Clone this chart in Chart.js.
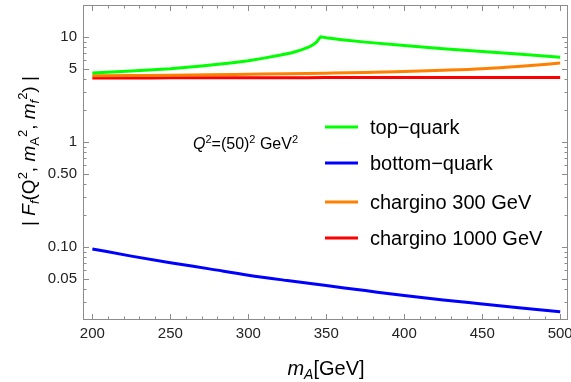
<!DOCTYPE html>
<html lang="en">
<head>
<meta charset="UTF-8">
<title>|F_f| vs m_A</title>
<script src="https://cdn.jsdelivr.net/npm/chart.js"></script>
<style>
  html, body { margin: 0; padding: 0; background: #fff; }
  #wrap { width: 571px; height: 382px; position: relative; }
</style>
</head>
<body>
<div id="wrap"><canvas id="grafico"></canvas></div>
<script>
  // top quark (cusp at the 2 m_t threshold)
  const topX = [200, 225, 250, 270, 290, 300, 310, 320, 328, 334, 339, 342, 344, 345.5, 346.5, 350, 360, 375, 400, 425, 450, 475, 500];
  const topY = [4.55, 4.75, 5.0, 5.3, 5.7, 5.95, 6.3, 6.7, 7.1, 7.55, 8.05, 8.55, 9.05, 9.7, 10.05, 9.85, 9.45, 8.95, 8.3, 7.75, 7.3, 6.85, 6.42];

  const massX = [200, 225, 250, 275, 300, 325, 350, 375, 400, 425, 450, 475, 500];
  const bottomY = [0.096, 0.082, 0.071, 0.062, 0.054, 0.048, 0.043, 0.0385, 0.0345, 0.0313, 0.0287, 0.0263, 0.0242];
  const chargino300Y = [4.27, 4.30, 4.33, 4.37, 4.42, 4.47, 4.53, 4.60, 4.70, 4.83, 5.00, 5.28, 5.65];
  const chargino1000Y = [4.08, 4.08, 4.09, 4.09, 4.10, 4.10, 4.11, 4.11, 4.12, 4.12, 4.12, 4.13, 4.13];

  const nombres = ['top\u2212quark', 'bottom\u2212quark', 'chargino 300 GeV', 'chargino 1000 GeV'];
  const colores = ['#00ff00', '#0000ff', '#ff8000', '#ff0000'];

  const xTicks = [200, 250, 300, 350, 400, 450, 500];
  const xMinor = [210, 220, 230, 240, 260, 270, 280, 290, 310, 320, 330, 340, 360, 370, 380, 390, 410, 420, 430, 440, 460, 470, 480, 490];
  const yTicks = [0.05, 0.1, 0.5, 1, 5, 10];
  const yTickLabels = ['0.05', '0.10', '0.50', '1', '5', '10'];
  const yMinor = [0.02, 0.03, 0.04, 0.06, 0.07, 0.08, 0.09, 0.2, 0.3, 0.4, 0.6, 0.7, 0.8, 0.9, 2, 3, 4, 6, 7, 8, 9, 20];

  const FUENTE = "'Liberation Sans', Arial, sans-serif";

  function pares(xs, ys) {
    return xs.map((x, i) => ({ x: x, y: ys[i] }));
  }

  // draws text made of pieces (italic, sub/superscript)
  function textoRico(ctx, partes, x, y, align) {
    let ancho = 0;
    partes.forEach(p => {
      ctx.font = (p.it ? 'italic ' : '') + p.size + 'px ' + FUENTE;
      p.w = ctx.measureText(p.t).width;
      ancho += p.w;
    });
    let cx = align === 'center' ? x - ancho / 2 : x;
    ctx.textAlign = 'left';
    ctx.textBaseline = 'alphabetic';
    partes.forEach(p => {
      ctx.font = (p.it ? 'italic ' : '') + p.size + 'px ' + FUENTE;
      ctx.fillText(p.t, cx, y + (p.dy || 0));
      cx += p.w;
    });
  }

  const marco = {
    id: 'marco',
    afterDraw(chart) {
      const ctx = chart.ctx;
      const a = chart.chartArea;
      const sx = chart.scales.x, sy = chart.scales.y;
      ctx.save();
      ctx.strokeStyle = '#8c8c8c';
      ctx.lineWidth = 1;
      ctx.strokeRect(a.left + 0.5, a.top + 0.5, a.right - a.left - 1, a.bottom - a.top - 1);

      function tick(px, largo, vertical) {
        ctx.beginPath();
        const p = Math.round(px) + 0.5;
        if (vertical) {
          ctx.moveTo(p, a.bottom); ctx.lineTo(p, a.bottom - largo);
          ctx.moveTo(p, a.top); ctx.lineTo(p, a.top + largo);
        } else {
          ctx.moveTo(a.left, p); ctx.lineTo(a.left + largo, p);
          ctx.moveTo(a.right, p); ctx.lineTo(a.right - largo, p);
        }
        ctx.stroke();
      }
      xTicks.forEach(v => tick(sx.getPixelForValue(v), 6, true));
      xMinor.forEach(v => tick(sx.getPixelForValue(v), 3.5, true));
      yTicks.forEach(v => tick(sy.getPixelForValue(v), 6, false));
      yMinor.forEach(v => {
        const p = sy.getPixelForValue(v);
        if (p >= a.top && p <= a.bottom) tick(p, 3.5, false);
      });

      ctx.fillStyle = '#000';
      // x title
      textoRico(ctx, [
        { t: 'm', size: 20, it: true },
        { t: 'A', size: 14, it: true, dy: 4 },
        { t: '[GeV]', size: 20 }
      ], 326, 375, 'center');

      // y title
      ctx.save();
      ctx.translate(35, 151);
      ctx.rotate(-Math.PI / 2);
      textoRico(ctx, [
        { t: '| ', size: 19 },
        { t: 'F', size: 19, it: true },
        { t: 'f', size: 13, it: true, dy: 4 },
        { t: '(Q', size: 19 },
        { t: '2', size: 13, dy: -8 },
        { t: ', ', size: 19 },
        { t: 'm', size: 19, it: true },
        { t: 'A', size: 13, dy: 4 },
        { t: '2', size: 13, dy: -8 },
        { t: ', ', size: 19 },
        { t: 'm', size: 19, it: true },
        { t: 'f', size: 13, it: true, dy: 4 },
        { t: '2', size: 13, dy: -8 },
        { t: ') |', size: 19 }
      ], 0, 0, 'center');
      ctx.restore();

      // annotation
      textoRico(ctx, [
        { t: 'Q', size: 16, it: true },
        { t: '2', size: 11, dy: -6 },
        { t: '=(50)', size: 16 },
        { t: '2', size: 11, dy: -6 },
        { t: ' GeV', size: 16 },
        { t: '2', size: 11, dy: -6 }
      ], 193, 149, 'left');

      // legend
      const filas = [127, 163, 202, 238];
      chart.data.datasets.forEach((ds, i) => {
        const y = filas[i];
        ctx.strokeStyle = ds.borderColor;
        ctx.lineWidth = 3;
        ctx.beginPath();
        ctx.moveTo(325, y); ctx.lineTo(358, y);
        ctx.stroke();
        ctx.fillStyle = '#000';
        ctx.font = '20px ' + FUENTE;
        ctx.textAlign = 'left';
        ctx.textBaseline = 'middle';
        ctx.fillText(ds.label, 370, y + 1);
      });
      ctx.restore();
    }
  };

  const series = [pares(topX, topY), pares(massX, bottomY), pares(massX, chargino300Y), pares(massX, chargino1000Y)];

  new Chart(document.getElementById('grafico'), {
    type: 'line',
    data: {
      datasets: series.map((d, i) => ({
        label: nombres[i],
        data: d,
        borderColor: colores[i],
        borderWidth: 3,
        pointRadius: 0,
        fill: false,
        tension: 0,
        cubicInterpolationMode: i === 0 ? 'default' : 'monotone'
      }))
    },
    options: {
      responsive: true,
      maintainAspectRatio: false,
      animation: false,
      layout: { padding: { top: 5, right: 3, left: 0, bottom: 0 } },
      plugins: { legend: { display: false }, tooltip: { enabled: false } },
      scales: {
        x: {
          type: 'linear',
          min: 194,
          max: 505,
          grid: { display: false, drawTicks: false },
          border: { display: false },
          afterBuildTicks(scale) { scale.ticks = xTicks.map(v => ({ value: v })); },
          afterFit(scale) { scale.height = 62; scale.paddingLeft = 0; scale.paddingRight = 0; },
          ticks: { padding: 5, color: '#222', font: { family: FUENTE, size: 15 }, maxRotation: 0 }
        },
        y: {
          type: 'logarithmic',
          min: 0.0202,
          max: 20.2,
          grid: { display: false, drawTicks: false },
          border: { display: false },
          afterBuildTicks(scale) { scale.ticks = yTicks.map(v => ({ value: v })); },
          afterFit(scale) { scale.width = 83; scale.paddingTop = 0; scale.paddingBottom = 0; },
          ticks: {
            padding: 6,
            color: '#222',
            font: { family: FUENTE, size: 15 },
            callback: (v, i) => yTickLabels[i]
          }
        }
      }
    },
    plugins: [marco]
  });
</script>
</body>
</html>
